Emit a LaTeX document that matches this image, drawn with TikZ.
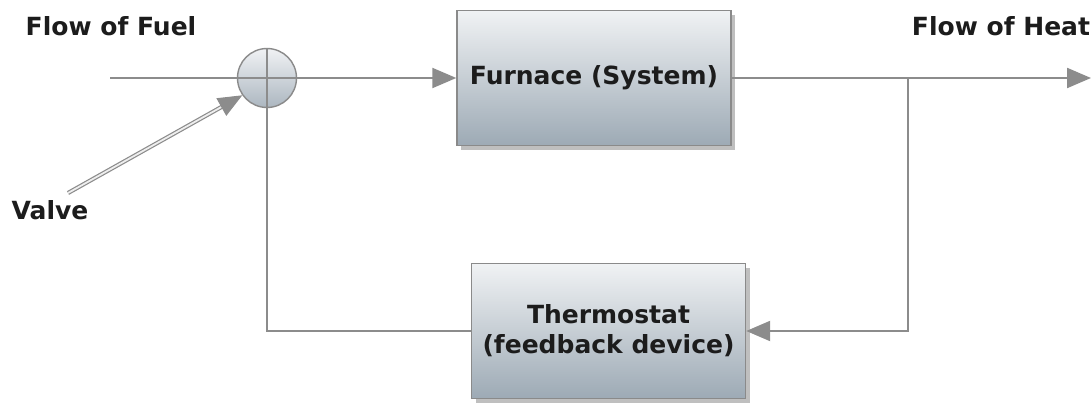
\documentclass[tikz,border=0pt]{standalone}
\usepackage{fontspec}
\setmainfont{DejaVu Sans}
\usetikzlibrary{arrows.meta,shadows,calc}
\definecolor{lineg}{HTML}{8C8C8C}
\definecolor{boxtop}{HTML}{F0F2F4}
\definecolor{boxbot}{HTML}{9DAAB5}
\definecolor{edgeg}{HTML}{8A8A8A}
\definecolor{txt}{HTML}{1C1C1C}
\tikzset{
  conn/.style={draw=lineg, line width=2.2pt},
  tip/.style={-{Triangle[length=24pt,width=20pt,fill=lineg]}},
  block/.style={rectangle, draw=edgeg, line width=1.4pt, top color=boxtop, bottom color=boxbot,
     minimum width=274pt, minimum height=135pt, align=center, text=txt, font=\lbl,
     drop shadow={shadow xshift=4pt, shadow yshift=-5pt, fill=black, opacity=0.25}},
  sumc/.style={circle, draw=edgeg, line width=1.4pt, top color=boxtop, bottom color=boxbot!85!white, minimum size=59pt, inner sep=0pt},
  lab/.style={text=txt, font=\lbl, inner sep=0pt},
}
\newcommand{\lbl}{\fontsize{25}{30}\selectfont\bfseries}
\begin{document}
\begin{tikzpicture}[x=1pt,y=-1pt]
\useasboundingbox (0,0) rectangle (1092,403);
% nodes
\node[sumc] (sum) at (267,78) {};
\node[block] (furn) at (594,78) {Furnace (System)};
\node[block] (therm) at (608.5,331) {Thermostat\\(feedback device)};
\coordinate (in) at (110,78);
\coordinate (out) at (1091,78);
\coordinate (j) at (908,78);
\coordinate (vstart) at (68,193);
% labels
\node[lab] (fuel) at (111,26) {Flow of Fuel};
\node[lab] (heat) at (1001,26) {Flow of Heat};
\node[lab] (valve) at (50,210) {Valve};
% cross in summing junction
\draw[draw=lineg, line width=1.6pt] (sum.north) -- (sum.south) (sum.west) -- (sum.east);
% connectors
\draw[conn] (in) -- (sum.west);
\draw[conn,tip] (sum.east) -- (furn.west);
\draw[conn,tip] (furn.east) -- (out);
\draw[conn,tip] (j) |- (therm.east);
\draw[conn] (therm.west) -| (sum.south);
% valve double line
\draw[draw=lineg, line width=1.2pt, double=white!85!lineg, double distance=1.8pt, shorten >=20pt] (vstart) -- (sum.215);
\draw[conn,tip, line width=1pt] ($(sum.215)!22pt!(vstart)$) -- (sum.215);
\end{tikzpicture}
\end{document}
